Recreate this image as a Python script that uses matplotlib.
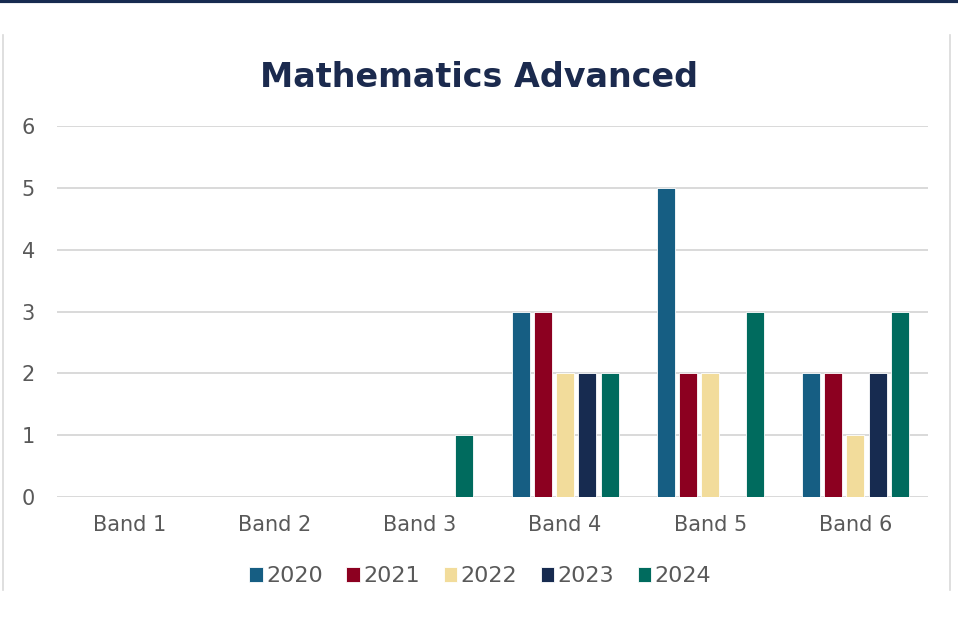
import numpy as np
import matplotlib
matplotlib.use("Agg")
import matplotlib.pyplot as plt
from matplotlib.lines import Line2D

bands = ["Band 1", "Band 2", "Band 3", "Band 4", "Band 5", "Band 6"]
years = ["2020", "2021", "2022", "2023", "2024"]
counts_2020 = [0, 0, 0, 3, 5, 2]
counts_2021 = [0, 0, 0, 3, 2, 2]
counts_2022 = [0, 0, 0, 2, 2, 1]
counts_2023 = [0, 0, 0, 2, 0, 2]
counts_2024 = [0, 0, 1, 2, 3, 3]
colours = ["#165E83", "#8C0020", "#F2DC9B", "#172B50", "#006B5E"]

series = [counts_2020, counts_2021, counts_2022, counts_2023, counts_2024]

plt.rcParams["font.family"] = ["DejaVu Sans"]

fig = plt.figure(figsize=(9.58, 6.41), dpi=100)
ax = fig.add_axes([0.0595, 0.2246, 0.9092, 0.5788])

x = np.arange(len(bands))
pitch = 0.153
width = 0.124
for i, (vals, col, yr) in enumerate(zip(series, colours, years)):
    offs = (i - 2) * pitch
    ax.bar(x + offs, vals, width, color=col, label=yr,
           edgecolor="#FFFFFF", linewidth=0.6, zorder=3)

ax.set_xlim(-0.5, len(bands) - 0.5)
ax.set_ylim(0, 6)
ax.set_yticks(range(7))
ax.set_xticks(x)
ax.set_xticklabels(bands)
ax.grid(axis="y", color="#D9D9D9", linewidth=1.4, zorder=0)
for s in ax.spines.values():
    s.set_visible(False)
ax.tick_params(axis="both", length=0, labelsize=15, labelcolor="#595959")
ax.tick_params(axis="y", pad=16)
ax.tick_params(axis="x", pad=13)

ax.set_title("Mathematics Advanced", fontsize=24, fontweight="bold",
             color="#1B2A4E", pad=28, x=0.4845)

leg = ax.legend(loc="upper center", bbox_to_anchor=(0.486, -0.133), ncol=5,
                frameon=False, fontsize=16, handlelength=0.62, handleheight=0.62,
                handletextpad=0.15, columnspacing=1.05)
for t in leg.get_texts():
    t.set_color("#595959")

# page frame
fig.add_artist(Line2D([0, 1], [0.998, 0.998], color="#172B50", linewidth=3))
fig.add_artist(Line2D([0.003, 0.003], [0.08, 0.945], color="#D9D9D9", linewidth=1.2))
fig.add_artist(Line2D([0.992, 0.992], [0.08, 0.945], color="#D9D9D9", linewidth=1.2))

fig.savefig("out.png", dpi=100)
